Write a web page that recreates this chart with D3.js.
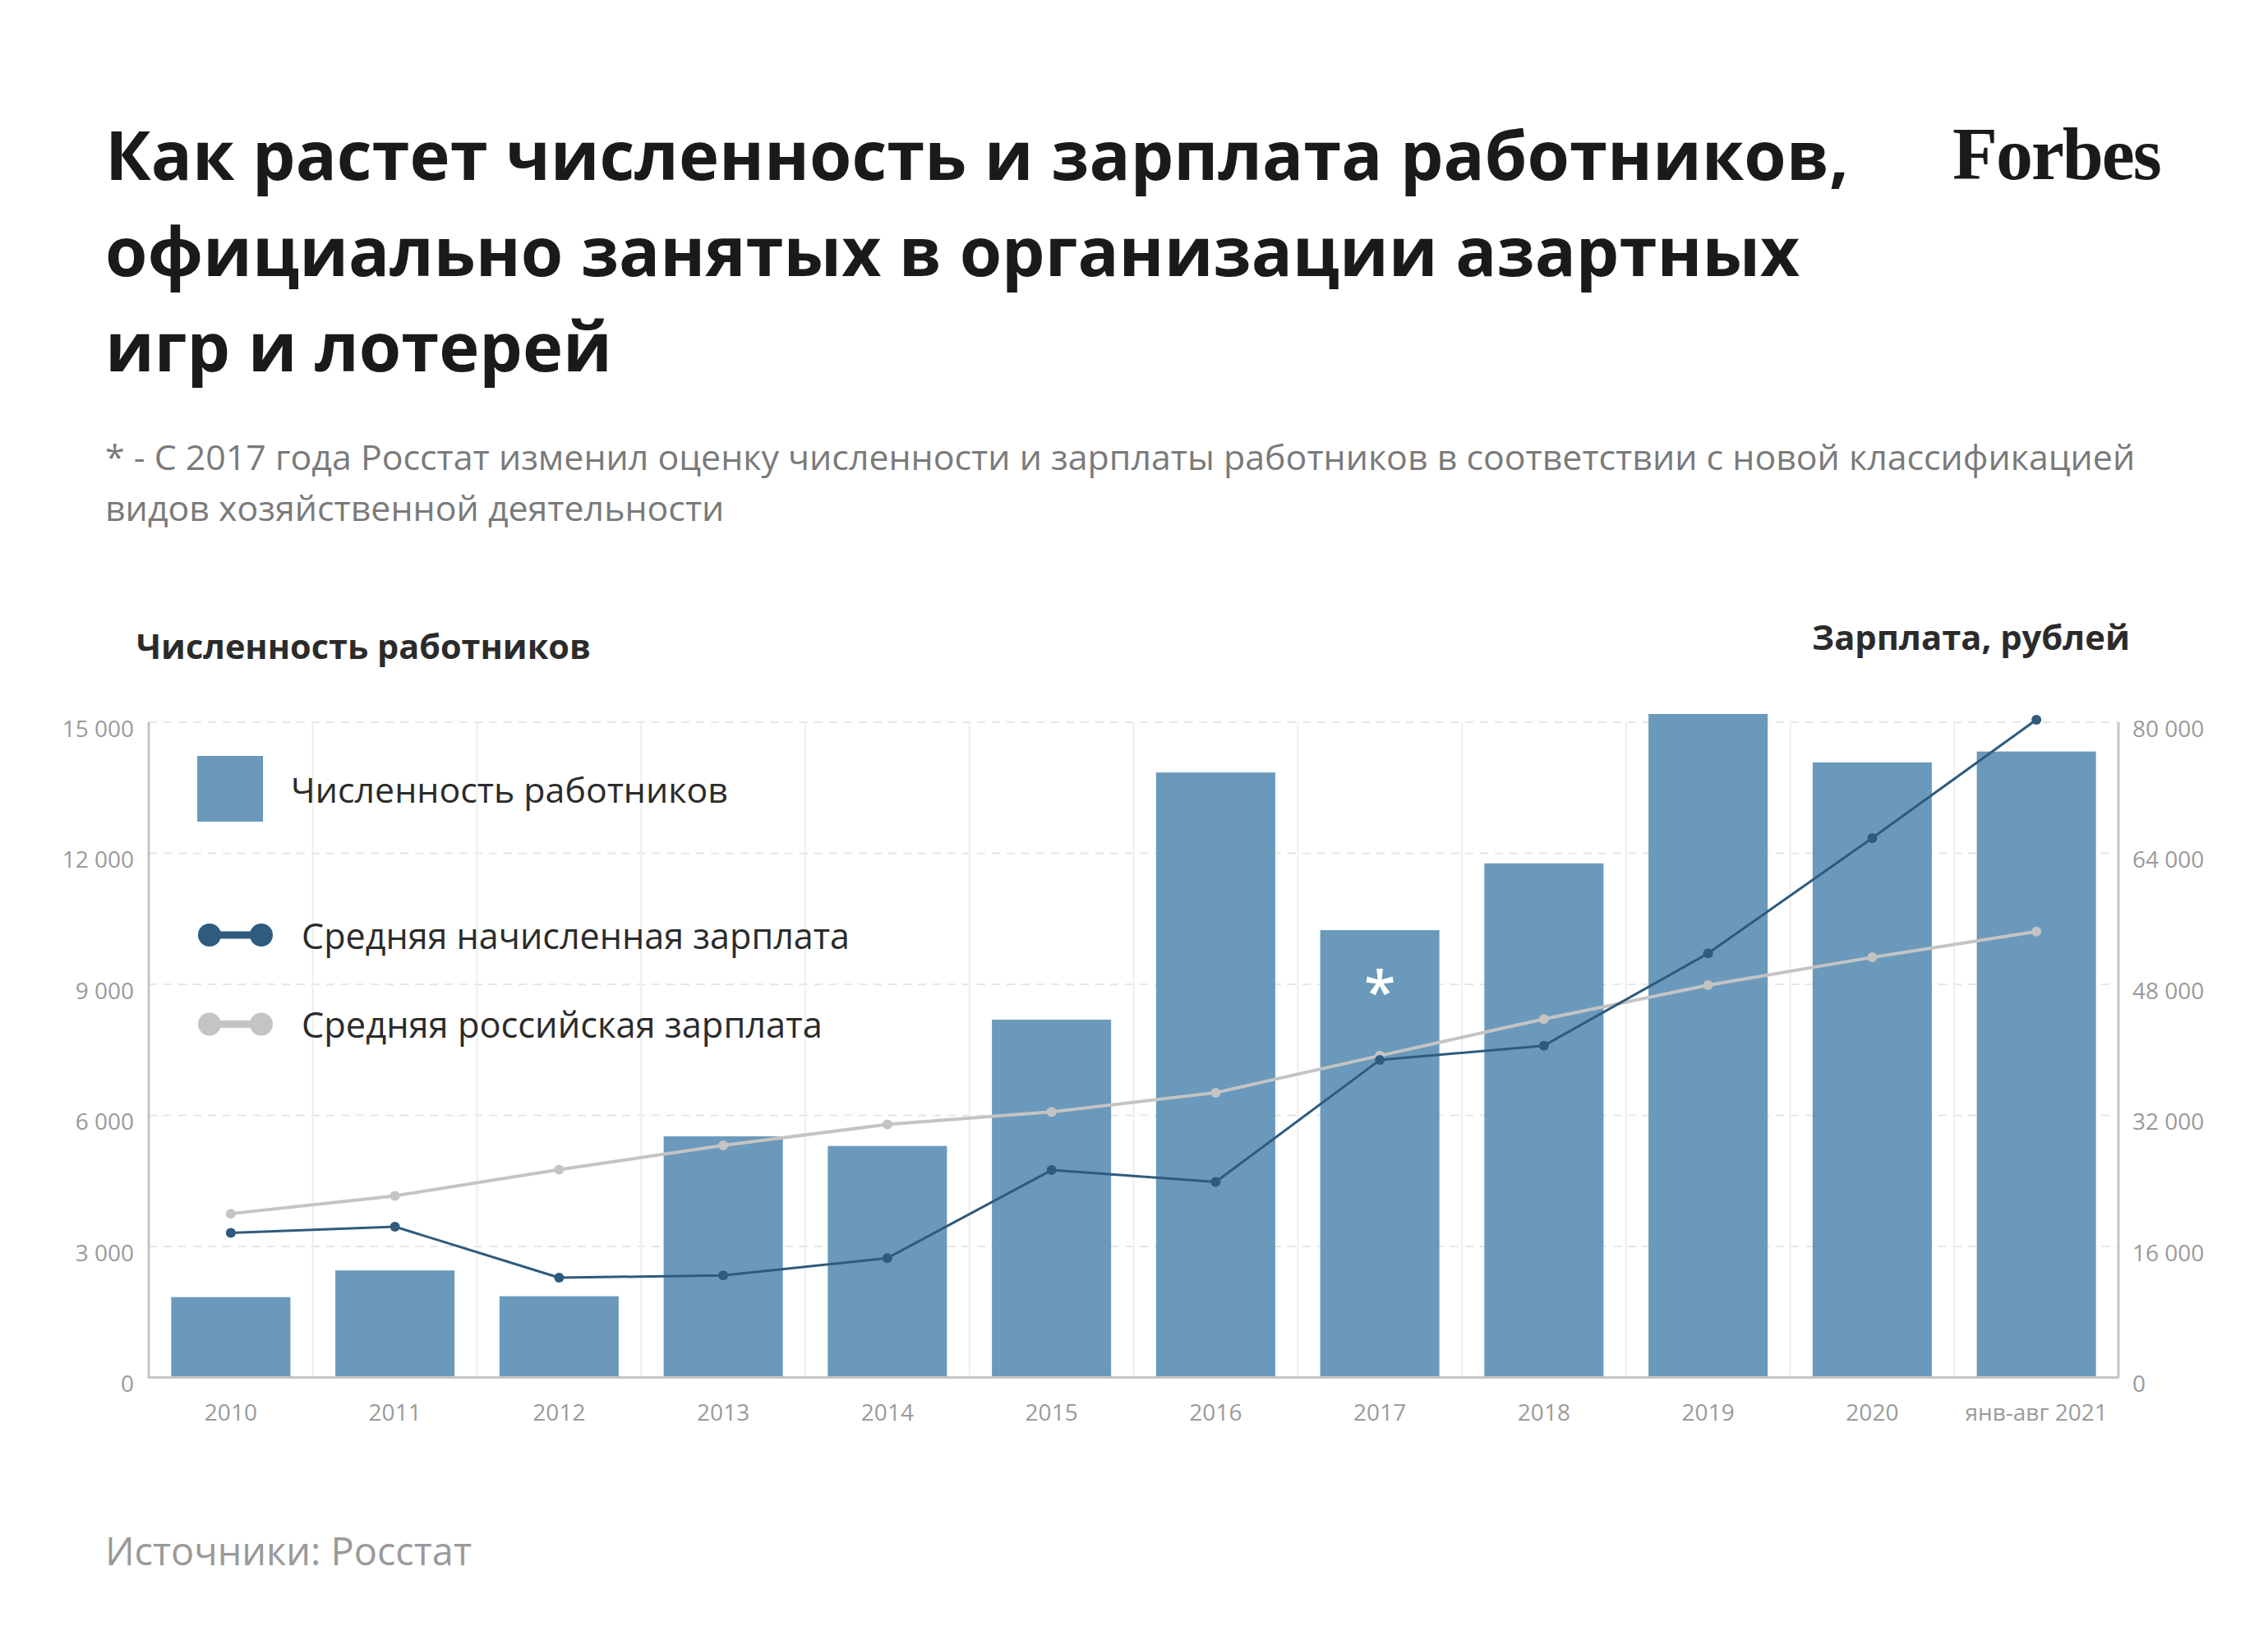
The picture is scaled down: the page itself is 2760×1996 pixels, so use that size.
<!DOCTYPE html>
<html>
<head>
<meta charset="utf-8">
<script src="https://cdn.jsdelivr.net/npm/d3@7"></script>
<style>
  html, body { margin: 0; padding: 0; background: #ffffff; }
  svg { display: block; }
  text { font-family: "Open Sans", "Noto Sans", sans-serif; }
</style>
</head>
<body>
<script>
// ---------- DATA ----------
const categories = ["2010", "2011", "2012", "2013", "2014", "2015", "2016", "2017", "2018", "2019", "2020", "янв-авг 2021"];
const employees = [1840, 2450, 1860, 5520, 5300, 8190, 13850, 10240, 11770, 15190, 14080, 14330];
const salaryGambling = [17660, 18410, 12190, 12460, 14580, 25320, 23880, 38760, 40510, 51780, 65860, 80310];
const salaryRussia = [20000, 22180, 25370, 28340, 30900, 32430, 34770, 39290, 43760, 47900, 51300, 54440];
const leftTicks = [0, 3000, 6000, 9000, 12000, 15000];
const rightTicks = [0, 16000, 32000, 48000, 64000, 80000];

const titleLines = [
  "Как растет численность и зарплата работников,",
  "официально занятых в организации азартных",
  "игр и лотерей"
];
const noteLines = [
  "* - С 2017 года Росстат изменил оценку численности и зарплаты работников в соответствии с новой классификацией",
  "видов хозяйственной деятельности"
];
const legendLabels = ["Численность работников", "Средняя начисленная зарплата", "Средняя российская зарплата"];
const leftAxisTitle = "Численность работников";
const rightAxisTitle = "Зарплата, рублей";
const sourceText = "Источники: Росстат";
const brand = "Forbes";

// ---------- STYLE ----------
const W = 2760, H = 1996;
const barColor = "#6a99bb";
const darkColor = "#2e5b7e";
const greyColor = "#c4c4c4";
const tickColor = "#9a9a9a";
const textColor = "#2b2b2b";

const plot = { left: 181, right: 2578, top: 879, bottom: 1676.5 };

const svg = d3.select("body").append("svg").attr("width", W).attr("height", H);

function fit(sel, target) {
  const base = 100;
  sel.style("font-size", base + "px");
  const len = sel.node().getComputedTextLength();
  sel.style("font-size", (base * target / len) + "px");
  return sel;
}

// ---------- SCALES ----------
const x = d3.scaleBand().domain(categories).range([plot.left, plot.right]).paddingInner(0.274).paddingOuter(0.137);
const yL = d3.scaleLinear().domain([0, 15000]).range([plot.bottom, plot.top]);
const yR = d3.scaleLinear().domain([0, 80000]).range([plot.bottom, plot.top]);
const fmt = v => d3.format(",")(v).replace(/,/g, " ");

// ---------- HEADER ----------
const title = svg.append("g");
titleLines.forEach((t, i) => {
  const el = title.append("text").attr("x", 128).attr("y", 219 + i * 116.5)
    .attr("fill", "#1a1a1a").style("font-weight", 700).text(t);
  if (i === 0) fit(el, 2122);
});
const tSize = title.select("text").style("font-size");
title.selectAll("text").style("font-size", tSize);

const brandEl = svg.append("text").attr("x", 2376).attr("y", 218)
  .attr("fill", "#1a1a1a")
  .style("font-family", "'Liberation Serif', 'DejaVu Serif', serif")
  .style("font-weight", 700).style("letter-spacing", "-2px").text(brand);
fit(brandEl, 254);

const note = svg.append("g");
noteLines.forEach((t, i) => {
  const el = note.append("text").attr("x", 128).attr("y", 572 + i * 62)
    .attr("fill", "#7a7a7a").text(t);
  if (i === 0) fit(el, 2471);
});
note.selectAll("text").style("font-size", note.select("text").style("font-size"));

// axis titles
fit(svg.append("text").attr("x", 166).attr("y", 802).attr("fill", textColor)
  .style("font-weight", 700).text(leftAxisTitle), 553);
fit(svg.append("text").attr("x", 2592).attr("y", 791).attr("fill", textColor)
  .attr("text-anchor", "end").style("font-weight", 700).text(rightAxisTitle), 387);

// ---------- GRID ----------
const grid = svg.append("g");
grid.selectAll("line.h").data(leftTicks.slice(1)).join("line")
  .attr("x1", plot.left).attr("x2", plot.right)
  .attr("y1", d => yL(d)).attr("y2", d => yL(d))
  .attr("stroke", "#e6e6e6").attr("stroke-width", 2).attr("stroke-dasharray", "10,8");
grid.selectAll("line.v").data(categories.slice(1)).join("line")
  .attr("x1", d => x(d) - x.step() * x.paddingInner() / 2)
  .attr("x2", d => x(d) - x.step() * x.paddingInner() / 2)
  .attr("y1", plot.top).attr("y2", plot.bottom)
  .attr("stroke", "#eeeeee").attr("stroke-width", 2);

// ---------- BARS ----------
svg.append("g").selectAll("rect").data(employees).join("rect")
  .attr("x", (d, i) => x(categories[i]))
  .attr("width", x.bandwidth())
  .attr("y", d => yL(d))
  .attr("height", d => yL(0) - yL(d))
  .attr("fill", barColor);

// asterisk on 2017
svg.append("text").attr("x", x("2017") + x.bandwidth() / 2).attr("y", 1232)
  .attr("text-anchor", "middle").attr("fill", "#ffffff")
  .style("font-size", "70px").style("font-weight", 600).text("*");

// ---------- LINES ----------
const cx = i => x(categories[i]) + x.bandwidth() / 2;
function drawLine(data, color, width, r) {
  const line = d3.line().x((d, i) => cx(i)).y(d => yR(d));
  svg.append("path").datum(data).attr("d", line).attr("fill", "none")
    .attr("stroke", color).attr("stroke-width", width).attr("stroke-linejoin", "round");
  svg.append("g").selectAll("circle").data(data).join("circle")
    .attr("cx", (d, i) => cx(i)).attr("cy", d => yR(d)).attr("r", r).attr("fill", color);
}
drawLine(salaryRussia, greyColor, 4, 6);
drawLine(salaryGambling, darkColor, 3, 6);

// ---------- AXES ----------
const axisG = svg.append("g");
axisG.append("line").attr("x1", plot.left).attr("x2", plot.left).attr("y1", plot.top).attr("y2", plot.bottom + 1)
  .attr("stroke", "#c6c6c6").attr("stroke-width", 3);
axisG.append("line").attr("x1", plot.right).attr("x2", plot.right).attr("y1", plot.top).attr("y2", plot.bottom + 1)
  .attr("stroke", "#c6c6c6").attr("stroke-width", 3);

const leftAxis = svg.append("g").attr("transform", `translate(${plot.left},0)`)
  .call(d3.axisLeft(yL).tickValues(leftTicks).tickFormat(fmt).tickSize(0).tickPadding(18));
const rightAxis = svg.append("g").attr("transform", `translate(${plot.right},0)`)
  .call(d3.axisRight(yR).tickValues(rightTicks).tickFormat(fmt).tickSize(0).tickPadding(17));
[leftAxis, rightAxis].forEach(a => {
  a.select(".domain").remove();
  a.selectAll("text").attr("fill", tickColor).style("font-size", "28px")
    .style("font-family", "'Open Sans', sans-serif").attr("dy", "0.62em");
});

const bottomAxis = svg.append("g").attr("transform", `translate(0,${plot.bottom})`)
  .call(d3.axisBottom(x).tickSize(0).tickPadding(0));
bottomAxis.select(".domain").attr("stroke", "#c6c6c6").attr("stroke-width", 3)
  .attr("d", `M${plot.left},0H${plot.right}`);
bottomAxis.selectAll("text").attr("fill", tickColor).style("font-size", "28px")
  .style("font-family", "'Open Sans', sans-serif").attr("y", 52).attr("dy", 0);

// ---------- LEGEND ----------
const lg = svg.append("g");
lg.append("rect").attr("x", 240).attr("y", 920).attr("width", 80).attr("height", 80).attr("fill", barColor);
fit(lg.append("text").attr("x", 354).attr("y", 977).attr("fill", textColor).text(legendLabels[0]), 532);

[[darkColor, 1138, 1155, legendLabels[1], 667], [greyColor, 1246.5, 1263, legendLabels[2], 634]].forEach(([c, cy, ty, lab, w]) => {
  lg.append("line").attr("x1", 255).attr("x2", 318).attr("y1", cy).attr("y2", cy)
    .attr("stroke", c).attr("stroke-width", 9);
  lg.append("circle").attr("cx", 255).attr("cy", cy).attr("r", 14).attr("fill", c);
  lg.append("circle").attr("cx", 318).attr("cy", cy).attr("r", 14).attr("fill", c);
  fit(lg.append("text").attr("x", 367).attr("y", ty).attr("fill", textColor).text(lab), w);
});

// ---------- SOURCE ----------
fit(svg.append("text").attr("x", 128).attr("y", 1905).attr("fill", "#9a9a9a").text(sourceText), 446);
</script>
</body>
</html>
